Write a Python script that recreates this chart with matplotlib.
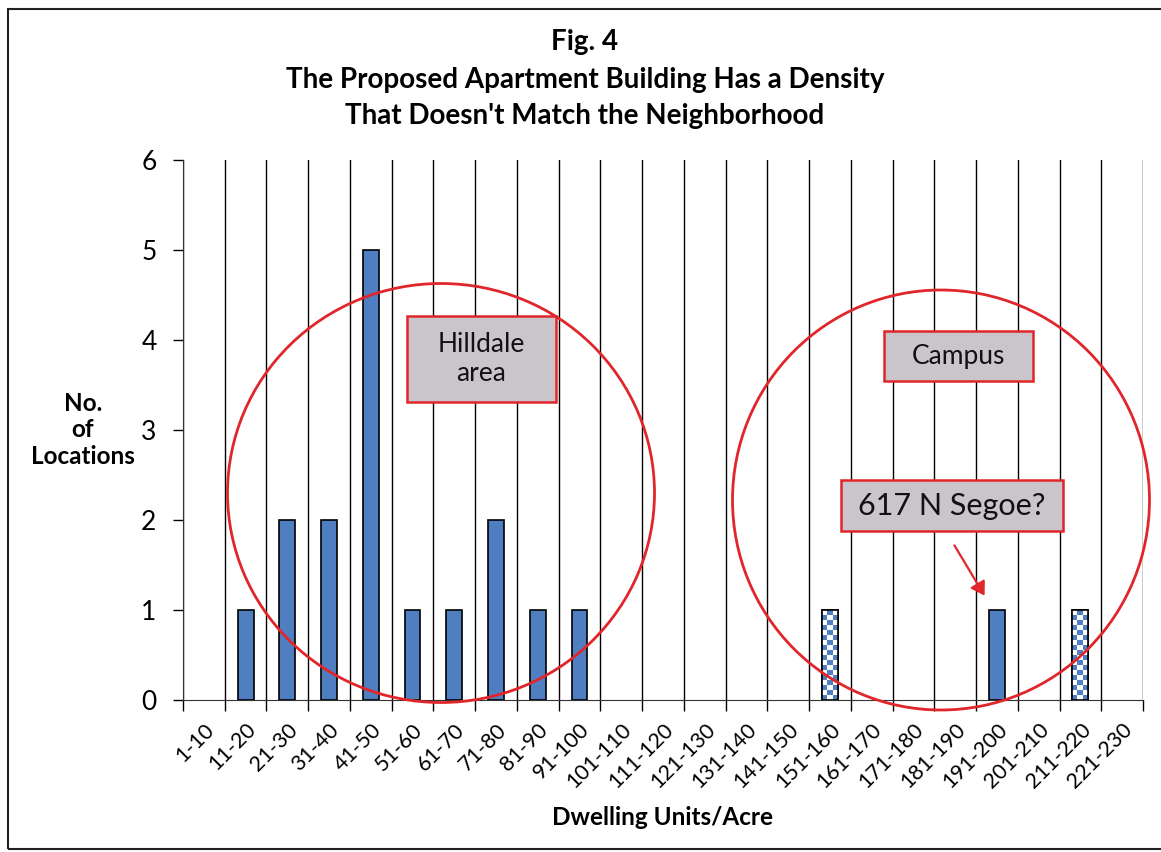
import numpy as np
import matplotlib.pyplot as plt
from matplotlib.patches import Ellipse, Rectangle, FancyArrowPatch
from matplotlib.colors import ListedColormap

plt.rcParams['font.family'] = ['Lato', 'DejaVu Sans']

# categories and counts
categories = ['1-10', '11-20', '21-30', '31-40', '41-50', '51-60', '61-70', '71-80',
              '81-90', '91-100', '101-110', '111-120', '121-130', '131-140', '141-150',
              '151-160', '161-170', '171-180', '181-190', '191-200', '201-210',
              '211-220', '221-230']
counts = [0, 1, 2, 2, 5, 1, 1, 2, 1, 1, 0, 0, 0, 0, 0, 1, 0, 0, 0, 1, 0, 1, 0]
# bars drawn with the checkered fill (campus buildings)
checkered = ['151-160', '211-220']

blue = '#4F7FC0'
red = '#E0262B'

fig = plt.figure(figsize=(11.61, 8.52), dpi=100)
ax = fig.add_axes([183/1161, 1-700/852, 960/1161, 540/852])

x = np.arange(len(categories))
vals = np.array(counts)
nz = vals > 0
bars = ax.bar(x[nz], vals[nz], width=0.38, color=blue, edgecolor='black', linewidth=1.2, zorder=3)

# checker fill for the campus bars
for b, c in zip(bars, np.array(categories)[nz]):
    if c in checkered:
        b.set_facecolor('white')
        x0, w, h = b.get_x(), b.get_width(), b.get_height()
        board = np.indices((18, 3)).sum(axis=0) % 2
        im = ax.imshow(board, cmap=ListedColormap(['white', blue]),
                       extent=(x0, x0 + w, 0, h), aspect='auto', zorder=3.5,
                       interpolation='nearest')
        im.set_clip_path(b)
        ax.bar(x0 + w/2, h, width=w, fill=False, edgecolor='black', linewidth=1.2, zorder=4)

ax.set_xlim(-0.5, len(categories) - 0.5)
ax.set_ylim(0, 6)
ax.set_yticks(range(7))
ax.tick_params(axis='y', labelsize=19, length=7, width=1, pad=12)

ax.set_xticks(x)
ax.set_xticklabels(categories, rotation=45, ha='right', rotation_mode='anchor', fontsize=15.5)
ax.tick_params(axis='x', which='major', length=0, pad=14)
ax.set_xticks(np.arange(-0.5, len(categories)), minor=True)
ax.tick_params(axis='x', which='minor', length=8, width=1, direction='out')
ax.grid(True, axis='x', which='minor', color='black', linewidth=1, zorder=1)

for s in ['top', 'right']:
    ax.spines[s].set_visible(False)
ax.spines['left'].set_color('#333333')
ax.spines['bottom'].set_color('#333333')

ax.set_xlabel('Dwelling Units/Acre', fontsize=17.5, fontweight='bold', labelpad=10)
fig.text(83/1161, 1-430/852, 'No.\nof\nLocations', ha='center', va='center',
         fontsize=17.5, fontweight='bold', linespacing=1.2)

fig.text(585/1161, 1-42/852, 'Fig. 4', ha='center', va='center', fontsize=20, fontweight='bold')
fig.text(585/1161, 1-98/852, "The Proposed Apartment Building Has a Density\nThat Doesn't Match the Neighborhood",
         ha='center', va='center', fontsize=20, fontweight='bold', linespacing=1.45)

# circles around the two groups
for cx, cy, w, h in [(441, 493, 427, 419), (941, 500, 417, 420)]:
    fig.patches.append(Ellipse((cx/1161, 1-cy/852), w/1161, h/852, transform=fig.transFigure,
                               fill=False, edgecolor=red, linewidth=2, zorder=5))

# labelled boxes
for cx, cy, txt, fs in [(481, 359, 'Hilldale\narea', 19), (958, 356, 'Campus', 19),
                        (952, 506, '617 N Segoe?', 22)]:
    fig.text(cx/1161, 1-cy/852, txt, ha='center', va='center', fontsize=fs, zorder=6,
             linespacing=1.2, color='#111111')

for x0, y0, x1, y1 in [(407, 316, 556, 402), (884, 331, 1033, 381), (841, 480, 1063, 531)]:
    fig.patches.append(Rectangle((x0/1161, 1-y1/852), (x1-x0)/1161, (y1-y0)/852,
                                 transform=fig.transFigure, facecolor='#C9C5CA',
                                 edgecolor=red, linewidth=1.8, zorder=5.5))

fig.patches.append(FancyArrowPatch((953/1161, 1-543/852), (986/1161, 1-598/852),
                                   transform=fig.transFigure, arrowstyle='-|>,head_length=8,head_width=5',
                                   color=red, linewidth=1.6, zorder=6))

# outer frame
fig.patches.append(Rectangle((8/1161, 1-849/852), 1160/1161, 840/852, transform=fig.transFigure,
                             fill=False, edgecolor='#222222', linewidth=1.5))

fig.savefig('out.png', dpi=100)
